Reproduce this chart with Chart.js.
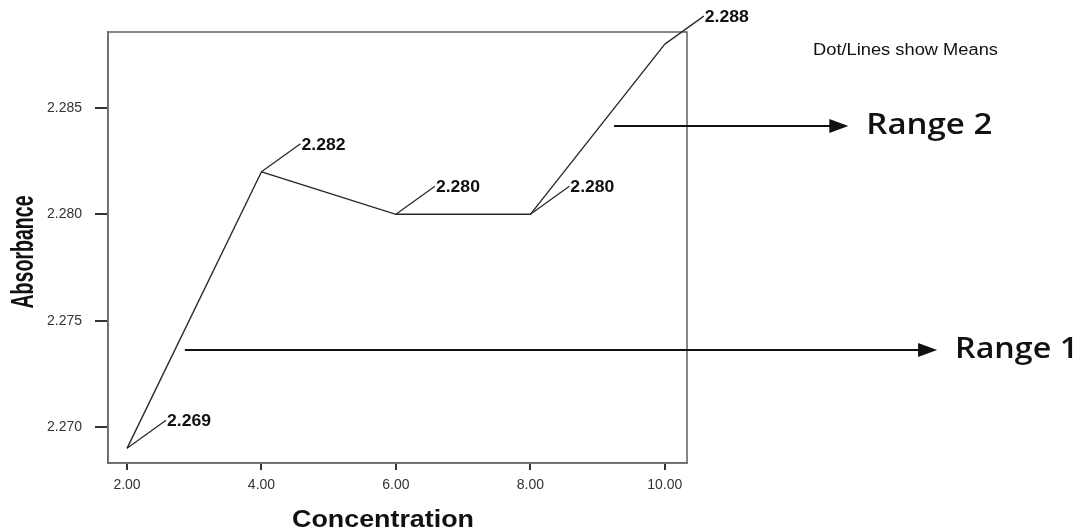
<!DOCTYPE html>
<html lang="en">
<head>
<meta charset="UTF-8">
<title>Absorbance vs Concentration</title>
<style>
  html, body { margin: 0; padding: 0; background: #fff; }
  canvas { display: block; }
</style>
</head>
<body>
<canvas id="meansChart" width="1082" height="529"></canvas>

<script src="https://cdn.jsdelivr.net/npm/chart.js"></script>

<script>
  const concentrations = [2, 4, 6, 8, 10];
  const absorbance = [2.269, 2.282, 2.280, 2.280, 2.288];
  const xTicks = [2, 4, 6, 8, 10];
  const yTicks = [2.270, 2.275, 2.280, 2.285];

  // range arrows in data units: start x, tip x, y
  const rangeArrows = [
    { label: 'Range 1', x0: 2.86, x1: 14.05, y: 2.27362, textW: 123 },
    { label: 'Range 2', x0: 9.245, x1: 12.73, y: 2.28415, textW: 126 }
  ];

  // draws text squeezed/stretched to a given width
  function fitText(ctx, text, x, y, font, width, align) {
    ctx.save();
    ctx.font = font;
    const w = ctx.measureText(text).width;
    ctx.translate(x, y);
    ctx.scale(width / w, 1);
    ctx.textAlign = align || 'left';
    ctx.textBaseline = 'alphabetic';
    ctx.fillText(text, 0, 0);
    ctx.restore();
  }

  const extras = {
    id: 'extras',
    afterDraw(chart) {
      const ctx = chart.ctx;
      const area = chart.chartArea;
      const xs = chart.scales.x;
      const ys = chart.scales.y;

      // box round the plot
      ctx.save();
      ctx.strokeStyle = '#6a6a6a';
      ctx.lineWidth = 1.6;
      ctx.strokeRect(area.left, area.top, area.right - area.left, area.bottom - area.top);
      ctx.restore();

      // leader lines and value labels
      const meta = chart.getDatasetMeta(0);
      ctx.save();
      ctx.strokeStyle = '#2a2a2a';
      ctx.fillStyle = '#111';
      ctx.lineWidth = 1.3;
      meta.data.forEach((pt, i) => {
        ctx.beginPath();
        ctx.moveTo(pt.x, pt.y);
        ctx.lineTo(pt.x + 39, pt.y - 28);
        ctx.stroke();
        fitText(ctx, absorbance[i].toFixed(3), pt.x + 40, pt.y - 22,
          'bold 16px "Liberation Sans", Arial, sans-serif', 44);
      });
      ctx.restore();

      // range arrows
      ctx.save();
      ctx.strokeStyle = '#111';
      ctx.fillStyle = '#111';
      ctx.lineWidth = 2;
      rangeArrows.forEach(a => {
        const px0 = xs.getPixelForValue(a.x0);
        const px1 = xs.getPixelForValue(a.x1);
        const py = ys.getPixelForValue(a.y);
        ctx.beginPath();
        ctx.moveTo(px0, py);
        ctx.lineTo(px1 - 16, py);
        ctx.stroke();
        ctx.beginPath();
        ctx.moveTo(px1, py);
        ctx.lineTo(px1 - 19, py - 7);
        ctx.lineTo(px1 - 19, py + 7);
        ctx.closePath();
        ctx.fill();
        fitText(ctx, a.label, px1 + 18, py + 8,
          '600 28px "Open Sans", "Liberation Sans", sans-serif', a.textW);
      });
      ctx.restore();

      // titles and note
      ctx.save();
      ctx.fillStyle = '#111';
      fitText(ctx, 'Concentration', 383, 527,
        'bold 23px "Liberation Sans", Arial, sans-serif', 182, 'center');
      fitText(ctx, 'Dot/Lines show Means', 813, 55,
        '16px "Liberation Sans", Arial, sans-serif', 185);
      ctx.translate(33, 252);
      ctx.rotate(-Math.PI / 2);
      fitText(ctx, 'Absorbance', 0, 0,
        'bold 31px "Liberation Sans", Arial, sans-serif', 113, 'center');
      ctx.restore();
    }
  };

  const ctx = document.getElementById('meansChart').getContext('2d');

  const meansChart = new Chart(ctx, {
    type: 'line',
    data: {
      datasets: [{
        label: 'Absorbance',
        data: concentrations.map((c, i) => ({ x: c, y: absorbance[i] })),
        borderColor: '#2a2a2a',
        borderWidth: 1.4,
        pointRadius: 0,
        tension: 0,
        fill: false
      }]
    },
    options: {
      responsive: false,
      animation: false,
      layout: { padding: { left: 0, right: 395, top: 32, bottom: 0 } },
      plugins: {
        legend: { display: false },
        tooltip: { enabled: false }
      },
      scales: {
        x: {
          type: 'linear',
          min: 1.717,
          max: 10.33,
          afterBuildTicks: s => { s.ticks = xTicks.map(v => ({ value: v })); },
          afterFit: s => { s.height = 66; },
          grid: { drawOnChartArea: false, drawTicks: true, tickLength: 7, color: '#333', lineWidth: 2 },
          border: { display: true, color: '#6a6a6a', width: 1.6 },
          ticks: {
            padding: 7,
            color: '#333',
            font: { family: '"Liberation Sans", Arial, sans-serif', size: 14 },
            callback: v => Number(v).toFixed(2)
          }
        },
        y: {
          type: 'linear',
          min: 2.26831,
          max: 2.28857,
          afterBuildTicks: s => { s.ticks = yTicks.map(v => ({ value: v })); },
          afterFit: s => { s.width = 108; },
          grid: { drawOnChartArea: false, drawTicks: true, tickLength: 13, color: '#333', lineWidth: 2 },
          border: { display: true, color: '#6a6a6a', width: 1.6 },
          ticks: {
            padding: 13,
            color: '#333',
            font: { family: '"Liberation Sans", Arial, sans-serif', size: 14 },
            callback: v => Number(v).toFixed(3)
          }
        }
      }
    },
    plugins: [extras]
  });
</script>
</body>
</html>
